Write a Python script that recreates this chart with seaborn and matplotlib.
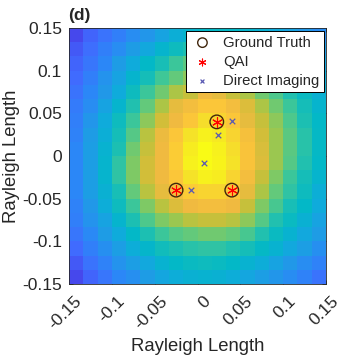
import numpy as np
import matplotlib
matplotlib.use("Agg")
import matplotlib.pyplot as plt
import matplotlib.transforms as mtransforms
from matplotlib.colors import LinearSegmentedColormap
import seaborn as sns

# ---------------- data ----------------
intensity = [
    [0.07, 0.12, 0.15, 0.18, 0.22, 0.25, 0.30, 0.35, 0.38, 0.40, 0.41, 0.40, 0.38, 0.36, 0.33, 0.30, 0.26, 0.22],
    [0.10, 0.14, 0.18, 0.22, 0.27, 0.32, 0.38, 0.43, 0.47, 0.50, 0.50, 0.49, 0.47, 0.44, 0.40, 0.36, 0.31, 0.27],
    [0.12, 0.16, 0.20, 0.27, 0.33, 0.40, 0.46, 0.52, 0.57, 0.60, 0.60, 0.58, 0.55, 0.51, 0.47, 0.42, 0.36, 0.31],
    [0.13, 0.18, 0.24, 0.30, 0.38, 0.45, 0.53, 0.58, 0.64, 0.68, 0.68, 0.66, 0.62, 0.57, 0.52, 0.46, 0.40, 0.34],
    [0.15, 0.20, 0.26, 0.33, 0.43, 0.52, 0.60, 0.68, 0.72, 0.80, 0.78, 0.72, 0.68, 0.60, 0.55, 0.48, 0.42, 0.36],
    [0.17, 0.22, 0.30, 0.38, 0.48, 0.58, 0.68, 0.78, 0.82, 0.86, 0.86, 0.82, 0.76, 0.68, 0.60, 0.52, 0.45, 0.38],
    [0.18, 0.25, 0.33, 0.43, 0.52, 0.64, 0.74, 0.80, 0.86, 0.92, 0.90, 0.86, 0.78, 0.72, 0.64, 0.55, 0.47, 0.40],
    [0.19, 0.27, 0.35, 0.45, 0.56, 0.70, 0.79, 0.86, 0.93, 0.97, 0.95, 0.90, 0.83, 0.74, 0.66, 0.57, 0.49, 0.41],
    [0.20, 0.28, 0.37, 0.47, 0.60, 0.72, 0.80, 0.88, 0.96, 1.00, 0.97, 0.92, 0.85, 0.75, 0.66, 0.57, 0.49, 0.41],
    [0.20, 0.28, 0.38, 0.50, 0.62, 0.74, 0.80, 0.88, 0.97, 1.00, 0.98, 0.93, 0.85, 0.76, 0.66, 0.56, 0.48, 0.40],
    [0.20, 0.28, 0.38, 0.50, 0.62, 0.74, 0.80, 0.86, 0.93, 0.97, 0.96, 0.90, 0.82, 0.72, 0.62, 0.52, 0.45, 0.38],
    [0.20, 0.28, 0.36, 0.46, 0.58, 0.70, 0.78, 0.82, 0.88, 0.90, 0.90, 0.86, 0.78, 0.68, 0.58, 0.50, 0.43, 0.35],
    [0.19, 0.26, 0.34, 0.43, 0.52, 0.62, 0.70, 0.76, 0.80, 0.82, 0.82, 0.80, 0.72, 0.62, 0.54, 0.46, 0.40, 0.33],
    [0.18, 0.24, 0.30, 0.38, 0.47, 0.55, 0.62, 0.66, 0.70, 0.72, 0.72, 0.70, 0.64, 0.56, 0.48, 0.42, 0.36, 0.30],
    [0.16, 0.21, 0.27, 0.33, 0.40, 0.47, 0.52, 0.56, 0.58, 0.60, 0.60, 0.58, 0.54, 0.48, 0.42, 0.37, 0.32, 0.27],
    [0.13, 0.18, 0.23, 0.28, 0.34, 0.39, 0.44, 0.47, 0.49, 0.50, 0.50, 0.48, 0.45, 0.41, 0.37, 0.32, 0.28, 0.23],
    [0.10, 0.15, 0.19, 0.24, 0.28, 0.32, 0.37, 0.40, 0.42, 0.43, 0.42, 0.40, 0.37, 0.34, 0.30, 0.26, 0.22, 0.19],
    [0.07, 0.12, 0.16, 0.20, 0.23, 0.27, 0.31, 0.34, 0.36, 0.37, 0.36, 0.34, 0.31, 0.28, 0.25, 0.22, 0.19, 0.15],
]
ground_truth_x = [-0.025, 0.0225, 0.04]
ground_truth_y = [-0.04, 0.04, -0.04]
qai_x = [-0.025, 0.0225, 0.04]
qai_y = [-0.04, 0.04, -0.04]
direct_x = [0.04, 0.024, 0.008, -0.008]
direct_y = [0.041, 0.025, -0.008, -0.04]
tick_values = [-0.15, -0.1, -0.05, 0, 0.05, 0.1, 0.15]
tick_labels = ["-0.15", "-0.1", "-0.05", "0", "0.05", "0.1", "0.15"]
legend_labels = ["Ground Truth", "QAI", "Direct Imaging"]
axis_label = "Rayleigh Length"
panel_label = "(d)"

# ---------------- style ----------------
sns.set_style("white")
plt.rcParams["font.family"] = ["Liberation Sans", "DejaVu Sans"]

parula_anchors = [
    (0.00, (0.242, 0.150, 0.660)),
    (0.07, (0.275, 0.290, 0.940)),
    (0.13, (0.250, 0.420, 0.995)),
    (0.20, (0.170, 0.530, 0.970)),
    (0.27, (0.120, 0.610, 0.900)),
    (0.33, (0.060, 0.670, 0.860)),
    (0.40, (0.010, 0.720, 0.780)),
    (0.47, (0.110, 0.750, 0.700)),
    (0.53, (0.250, 0.780, 0.590)),
    (0.60, (0.440, 0.790, 0.440)),
    (0.67, (0.640, 0.780, 0.290)),
    (0.73, (0.800, 0.750, 0.220)),
    (0.80, (0.940, 0.730, 0.250)),
    (0.87, (0.990, 0.780, 0.220)),
    (0.93, (0.960, 0.880, 0.160)),
    (1.00, (0.977, 0.984, 0.081)),
]
parula = LinearSegmentedColormap.from_list("parula", parula_anchors)

fig = plt.figure(figsize=(3.4, 3.62), dpi=100)
ax = fig.add_axes([69 / 340, 1 - 284 / 362, 257 / 340, 256 / 362])

Z = np.array(intensity)
nrow, ncol = Z.shape
x_edges = np.linspace(-0.15, 0.15, ncol + 1)
y_edges = np.linspace(0.15, -0.15, nrow + 1)
ax.pcolormesh(x_edges, y_edges, Z, cmap=parula, vmin=0, vmax=1, shading="flat")

sns.scatterplot(x=ground_truth_x, y=ground_truth_y, ax=ax, marker="o", s=95,
                facecolors="none", edgecolor=(0.25, 0.15, 0.05), linewidth=1.0,
                label=legend_labels[0], zorder=3)
sns.scatterplot(x=qai_x, y=qai_y, ax=ax, marker=(6, 2, 0), s=50,
                color="red", linewidth=0.8, label=legend_labels[1], zorder=4)
sns.scatterplot(x=direct_x, y=direct_y, ax=ax, marker="x", s=16,
                color=(0.35, 0.35, 0.7), linewidth=0.9, label=legend_labels[2], zorder=4)

ax.set_xlim(-0.15, 0.15)
ax.set_ylim(-0.15, 0.15)
ax.set_xticks(tick_values)
ax.set_yticks(tick_values)
ax.set_xticklabels([])
ax.set_yticklabels(tick_labels, fontsize=12.5, color="0.15")

# rotated x tick labels, placed like the MATLAB original
offset = mtransforms.ScaledTranslation(10 / 100, -15 / 100, fig.dpi_scale_trans)
xtrans = ax.get_xaxis_transform() + offset
for v, lab in zip(tick_values, tick_labels):
    ax.text(v, 0, lab, transform=xtrans, rotation=45, ha="right", va="center",
            rotation_mode="anchor", fontsize=12.5, color="0.15", clip_on=False)

ax.tick_params(direction="in", length=3, width=0.6, top=True, right=True,
               bottom=True, left=True, color="0.15", pad=5)
for sp in ax.spines.values():
    sp.set_color("0.15")
    sp.set_linewidth(0.6)

ax.set_xlabel(axis_label, fontsize=13.3, color="0.15")
ax.xaxis.set_label_coords(0.5, -0.212)
ax.set_ylabel(axis_label, fontsize=13.3, color="0.15", labelpad=2)

leg = ax.legend(loc="upper right", bbox_to_anchor=(0.992, 0.988), borderaxespad=0,
                fontsize=10.7, frameon=True, fancybox=False, edgecolor="black",
                framealpha=1, markerscale=0.7, handletextpad=0.6,
                borderpad=0.3, labelspacing=0.35, handlelength=1.6)
leg.get_frame().set_linewidth(0.7)

fig.text(68 / 340, 1 - 23 / 362, panel_label, fontsize=12.5, fontweight="bold",
         ha="left", va="bottom")

fig.savefig("out.png", dpi=100)
